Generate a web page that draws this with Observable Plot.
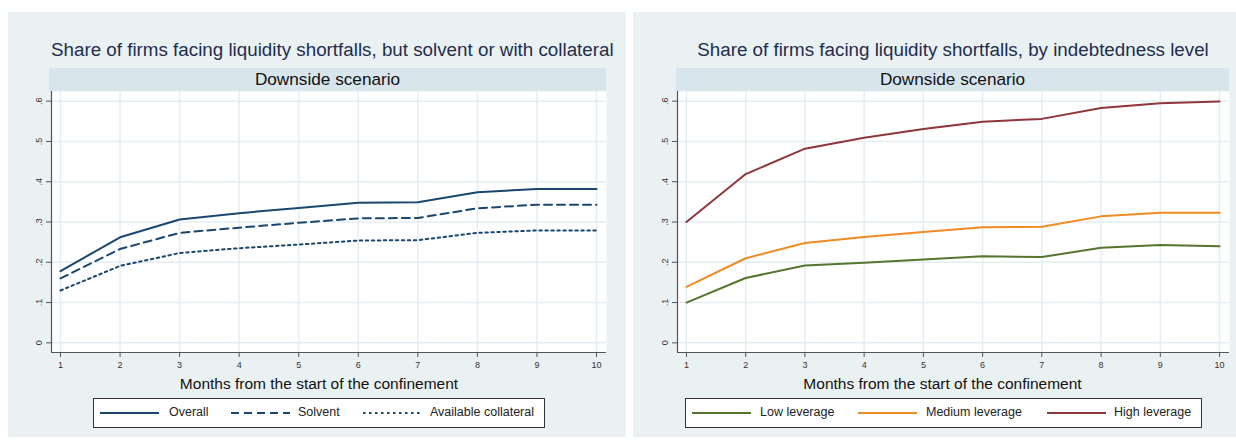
<!DOCTYPE html>
<html><head><meta charset="utf-8">
<script src="https://cdn.jsdelivr.net/npm/d3@7"></script>
<script src="https://cdn.jsdelivr.net/npm/@observablehq/plot@0.6"></script>
<style>
body{margin:0;width:1236px;height:440px;background:#fff;font-family:"Liberation Sans",Arial,sans-serif;position:relative;overflow:hidden}
.panel{position:absolute;top:12px;height:425px;background:#eaf1f3}
.title{position:absolute;top:26px;text-align:center;font-size:18.8px;line-height:24px;color:#1f2d4d;white-space:nowrap}
.strip{position:absolute;top:56px;height:23px;background:#d8e5ec;text-align:center;line-height:23px;font-size:17.2px;color:#111}
.chart{position:absolute;top:79px;left:0}
.legend{position:absolute;top:386px;height:28px;border:1px solid #333;background:#fff;font-size:12.5px;color:#222}
.legend .sw{position:absolute;top:13px;width:59px;height:2px}
.legend .lb{position:absolute;top:6px;white-space:nowrap}
</style></head><body>
<div class="panel" id="p1" style="left:8px;width:618px">
  <div class="title" style="left:43px;width:555px">Share of firms facing liquidity shortfalls, but solvent or with collateral</div>
  <div class="strip" style="left:41px;width:557px">Downside scenario</div>
  <div class="chart" id="c1"></div>
  <div class="legend" id="l1" style="left:85px;width:450px"></div>
</div>
<div class="panel" id="p2" style="left:633px;width:603px">
  <div class="title" style="left:44px;width:552px">Share of firms facing liquidity shortfalls, by indebtedness level</div>
  <div class="strip" style="left:43px;width:553px">Downside scenario</div>
  <div class="chart" id="c2"></div>
  <div class="legend" id="l2" style="left:52px;width:515px"></div>
</div>
<script>
const months = [1, 2, 3, 4, 5, 6, 7, 8, 9, 10];
const overall    = [0.178, 0.262, 0.306, 0.322, 0.335, 0.348, 0.349, 0.374, 0.382, 0.382];
const solvent    = [0.160, 0.233, 0.273, 0.286, 0.298, 0.309, 0.310, 0.334, 0.343, 0.343];
const collateral = [0.130, 0.191, 0.223, 0.235, 0.244, 0.254, 0.255, 0.273, 0.279, 0.279];
const lowLev     = [0.100, 0.161, 0.192, 0.199, 0.207, 0.215, 0.213, 0.236, 0.243, 0.240];
const medLev     = [0.139, 0.210, 0.248, 0.263, 0.275, 0.287, 0.288, 0.314, 0.323, 0.323];
const highLev    = [0.300, 0.419, 0.482, 0.509, 0.531, 0.549, 0.556, 0.583, 0.595, 0.599];
const yTicks = [0, 0.1, 0.2, 0.3, 0.4, 0.5, 0.6];
const xLabel = "Months from the start of the confinement";

const leftSeries = [
  {name: "Overall", values: overall, color: "#1a476f", dash: null},
  {name: "Solvent", values: solvent, color: "#1a476f", dash: "8,5"},
  {name: "Available collateral", values: collateral, color: "#1a476f", dash: "2.5,3.5"}
];
const rightSeries = [
  {name: "Low leverage", values: lowLev, color: "#55752f", dash: null},
  {name: "Medium leverage", values: medLev, color: "#f08a24", dash: null},
  {name: "High leverage", values: highLev, color: "#90353b", dash: null}
];

const xDom = [0.849, 10.168];
const yDom = [-0.024, 0.624];
const fmtY = d => d === 0 ? "0" : d3.format(".1f")(d).replace(/^0/, "");

function chart(series, width, mLeft, mRight, labelDx) {
  const marks = [
    Plot.frame({fill: "white", stroke: null}),
    Plot.gridX(months, {stroke: "#e4eef2", strokeOpacity: 1, strokeWidth: 1.5}),
    Plot.gridY(yTicks, {stroke: "#e4eef2", strokeOpacity: 1, strokeWidth: 1.5}),
    Plot.ruleX([xDom[0]], {stroke: "#555", strokeWidth: 1.2}),
    Plot.ruleY([yDom[0]], {stroke: "#555", strokeWidth: 1.2}),
    Plot.axisX(months, {tickSize: 5, tickPadding: 4, stroke: "#555", fill: "#333", fontSize: 9, label: null}),
    Plot.axisY(yTicks, {tickSize: 5, tickPadding: 5, stroke: "#555", fill: "#333", fontSize: 9, tickRotate: -90, tickFormat: fmtY, label: null}),
    Plot.text([xLabel], {frameAnchor: "bottom", dy: 32, dx: labelDx, text: d => d, fontSize: 15.5, fill: "#111", lineAnchor: "middle"})
  ];
  for (const s of series) {
    const data = months.map((m, i) => ({month: m, value: s.values[i]}));
    marks.push(Plot.line(data, {x: "month", y: "value", stroke: s.color, strokeWidth: 2, strokeDasharray: s.dash || undefined}));
  }
  return Plot.plot({
    width, height: 300,
    marginLeft: mLeft, marginRight: mRight, marginTop: 0, marginBottom: 39,
    x: {domain: xDom},
    y: {domain: yDom},
    style: {background: "transparent", fontFamily: "'Liberation Sans', Arial, sans-serif", overflow: "visible"},
    marks
  });
}

function legend(el, series, swLefts, lbLefts) {
  series.forEach((s, i) => {
    const sw = document.createElement("div");
    sw.className = "sw";
    sw.style.left = swLefts[i] + "px";
    const svg = `<svg width="59" height="4" style="position:absolute;top:-1px;left:0"><line x1="0" x2="59" y1="2" y2="2" stroke="${s.color}" stroke-width="2" ${s.dash ? `stroke-dasharray="${s.dash}"` : ""}/></svg>`;
    sw.innerHTML = svg;
    el.appendChild(sw);
    const lb = document.createElement("div");
    lb.className = "lb";
    lb.style.left = lbLefts[i] + "px";
    lb.textContent = s.name;
    el.appendChild(lb);
  });
}

document.getElementById("c1").appendChild(chart(leftSeries, 618, 43, 20, -10));
document.getElementById("c2").appendChild(chart(rightSeries, 603, 44, 7, -11));
legend(document.getElementById("l1"), leftSeries, [6, 137, 269], [75, 204, 336]);
legend(document.getElementById("l2"), rightSeries, [6, 172, 361], [74, 240, 428]);
</script>
</body></html>
